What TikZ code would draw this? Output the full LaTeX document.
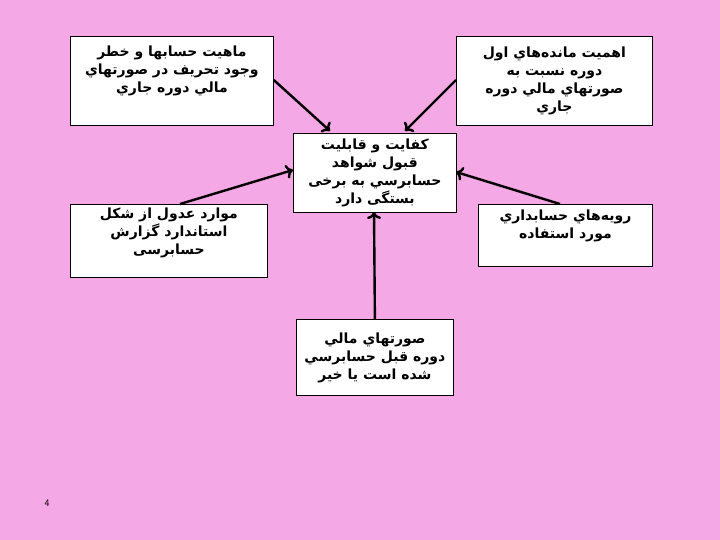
\documentclass[tikz,border=0pt]{standalone}
\usepackage{fontspec}
\usetikzlibrary{arrows.meta}
\newfontfamily\arabicfont[Script=Arabic]{DejaVu Sans}
\TeXXeTstate=1
\definecolor{bg}{HTML}{F5A8E6}
\begin{document}
\begin{tikzpicture}[x=1pt,y=-1pt,
  box/.style={draw=black,fill=white,line width=0.8pt,align=center,inner sep=2pt,font=\arabicfont\bfseries\fontsize{14}{18}\selectfont},
  arr/.style={line width=2.4pt,-{To[length=7pt,width=14pt]}}]
\fill[bg] (0,0) rectangle (720,540);
\useasboundingbox (0,0) rectangle (720,540);
\node[box,minimum width=203pt,minimum height=89pt,anchor=north west] (a) at (70,36) {\beginR ماهيت حسابها و خطر\endR\\\beginR وجود تحريف در صورتهاي\endR\\\beginR مالي دوره جاري\endR\\[6pt]};
\node[box,minimum width=196pt,minimum height=89pt,anchor=north west] (b) at (456,36) {\beginR اهميت مانده‌هاي اول\endR\\\beginR دوره نسبت به\endR\\\beginR صورتهاي مالي دوره\endR\\\beginR جاري\endR};
\node[box,minimum width=163pt,minimum height=79pt,anchor=north west] (c) at (293,133) {\beginR كفايت و قابليت\endR\\\beginR قبول شواهد\endR\\\beginR حسابرسي به برخی\endR\\\beginR بستگی دارد\endR};
\node[box,minimum width=197pt,minimum height=73pt,anchor=north west] (d) at (70,204) {\beginR موارد عدول از شكل\endR\\\beginR استاندارد گزارش\endR\\\beginR حسابرسی\endR\\[2pt]};
\node[box,minimum width=174pt,minimum height=62pt,anchor=north west] (e) at (478,204) {\beginR رويه‌هاي حسابداري\endR\\\beginR مورد استفاده\endR\\[4pt]};
\node[box,minimum width=157pt,minimum height=76pt,anchor=north west] (f) at (296,319) {\beginR صورتهاي مالي\endR\\\beginR دوره قبل حسابرسي\endR\\\beginR شده است يا خير\endR};
\node[font=\sffamily\fontsize{10}{11}\selectfont] (p) at (47,503) {4};
\draw[arr] (a.east |- 0,80) -- (330,131);
\draw[arr] (b.west |- 0,80) -- (405,131);
\draw[arr] (180,204) -- (293,170);
\draw[arr] (560,204) -- (456,172);
\draw[arr] (f.north) -- (374,212);
\end{tikzpicture}
\end{document}
